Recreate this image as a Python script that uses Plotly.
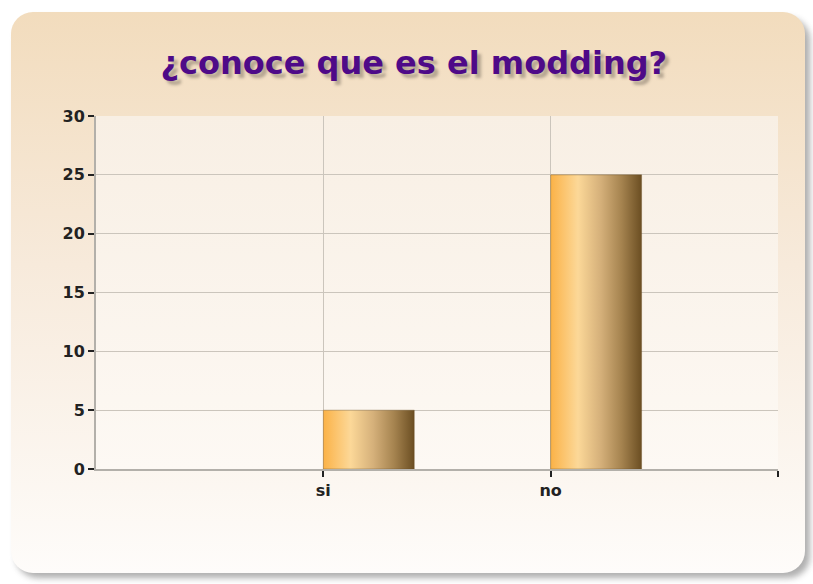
import base64
import plotly.graph_objects as go

# data
categories = ["si", "no"]
values = [5, 25]
y_ticks = [0, 5, 10, 15, 20, 25, 30]

W, H = 813, 584
ML, MR, MT, MB = 96, 35, 116, 115
PW, PH = W - ML - MR, H - MT - MB
BAR_W = 0.4

# background panel: rounded, gradient, drop shadow, lighter plot area
svg = f"""<svg xmlns='http://www.w3.org/2000/svg' width='{W}' height='{H}' viewBox='0 0 {W} {H}'>
<defs>
<linearGradient id='pg' x1='0' y1='0' x2='0' y2='1'>
<stop offset='0' stop-color='#f2dcbd'/><stop offset='0.45' stop-color='#f7eadb'/><stop offset='1' stop-color='#fefcfa'/>
</linearGradient>
<linearGradient id='ag' x1='0' y1='0' x2='0' y2='1'>
<stop offset='0' stop-color='#f8efe4'/><stop offset='1' stop-color='#fdf9f4'/>
</linearGradient>
<filter id='sh' x='-5%' y='-5%' width='115%' height='115%'>
<feGaussianBlur stdDeviation='3'/>
</filter>
</defs>
<rect x='16' y='18' width='794' height='560' rx='22' fill='#6e6e6e' opacity='0.55' filter='url(#sh)'/>
<rect x='11' y='12' width='794' height='561' rx='22' fill='url(#pg)'/>
<rect x='{ML}' y='{MT}' width='{PW}' height='{PH}' fill='url(#ag)'/>
</svg>"""
src = "data:image/svg+xml;base64," + base64.b64encode(svg.encode()).decode()

bar_scale = [[0, "#fbb247"], [0.3, "#fcd898"], [0.55, "#d5b07a"],
             [0.78, "#a5834f"], [1, "#6b4e22"]]

fig = go.Figure()
for i, (cat, v) in enumerate(zip(categories, values)):
    x0 = i + 1
    fig.add_trace(go.Scatter(
        x=[x0, x0, x0 + BAR_W, x0 + BAR_W, x0],
        y=[0, v, v, 0, 0],
        mode="lines", fill="toself",
        fillgradient=dict(type="horizontal", colorscale=bar_scale),
        line=dict(color="rgba(100,72,30,0.35)", width=1),
        name=cat, showlegend=False, hoverinfo="skip"))

fig.update_layout(
    width=W, height=H,
    margin=dict(l=ML, r=MR, t=MT, b=MB),
    paper_bgcolor="white", plot_bgcolor="rgba(0,0,0,0)",
    title=dict(text="¿conoce que es el modding?", x=0.509, xanchor="center",
               y=1 - 63 / H, yanchor="middle",
               font=dict(family="DejaVu Sans", size=32, color="#4e0a88",
                         weight="bold", shadow="4px 4px 3px rgba(90,80,70,0.4)")),
    images=[dict(source=src, xref="paper", yref="paper",
                 x=-ML / PW, y=1 + MT / PH, sizex=W / PW, sizey=H / PH,
                 xanchor="left", yanchor="top", sizing="stretch", layer="below")],
)

axis_style = dict(
    showgrid=True, gridcolor="#cbc5bc", gridwidth=1,
    showline=True, linecolor="#b3b0aa", linewidth=2,
    ticks="outside", ticklen=6, tickwidth=2, tickcolor="#222",
    zeroline=False,
    tickfont=dict(family="DejaVu Sans", size=16, color="#222", weight="bold"))
fig.update_xaxes(range=[0, 3], tickvals=[1, 2, 3], ticktext=categories + [""],
                 **axis_style)
fig.update_yaxes(range=[0, 30], tickvals=y_ticks, **axis_style)

# the page's default body margin would shift the chart by 8px
fig.write_html("out.html", config={"displayModeBar": False},
               post_script="document.body.style.margin='0px';")
